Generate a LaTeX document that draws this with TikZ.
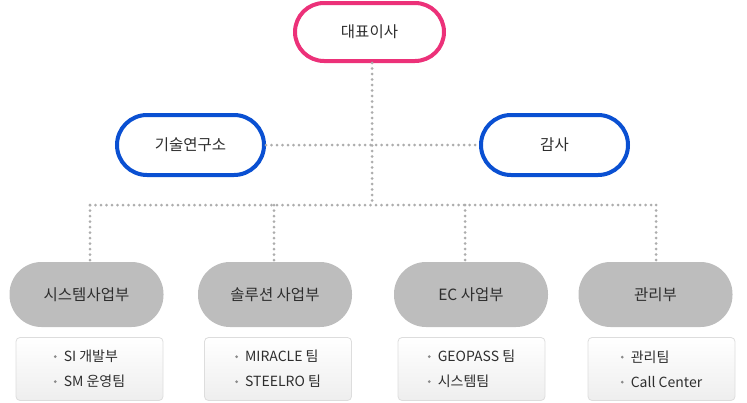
\documentclass[tikz,border=0pt]{standalone}
\usepackage{fontspec}
\setmainfont{Noto Sans CJK KR}
\definecolor{pinkline}{HTML}{EC3179}
\definecolor{blueline}{HTML}{0A50D2}
\definecolor{deptgray}{HTML}{BDBDBD}
\definecolor{dotgray}{HTML}{ADADAD}
\definecolor{txt}{HTML}{2E2E2E}
\definecolor{boxline}{HTML}{DDDDDD}
\definecolor{boxbot}{HTML}{EEEEEE}
\definecolor{bul}{HTML}{8A8A8A}
\newcommand{\bl}{\raisebox{3.6pt}{\tikz\fill[bul] (0,0) circle (1.5pt);}\hspace{7pt}}
\begin{document}
\begin{tikzpicture}[x=1pt,y=-1pt,
  every node/.style={text=txt},
  topnode/.style={draw=pinkline,line width=4pt,fill=white,rounded corners=29pt,
    minimum width=149pt,minimum height=58pt,inner sep=0pt,font=\fontsize{15.5}{18}\selectfont},
  midnode/.style={draw=blueline,line width=4pt,fill=white,rounded corners=30pt,
    minimum width=147pt,minimum height=60pt,inner sep=0pt,font=\fontsize{15.5}{18}\selectfont},
  dept/.style={fill=deptgray,rounded corners=32pt,minimum width=154pt,minimum height=65pt,
    inner sep=0pt,font=\fontsize{15.5}{18}\selectfont},
  teambox/.style={draw=boxline,line width=0.8pt,top color=white,bottom color=boxbot,
    rounded corners=4pt,minimum width=147pt,minimum height=63pt,inner sep=0pt},
  teamtext/.style={align=left,font=\fontsize{14}{25}\selectfont,inner sep=0pt},
  dots/.style={draw=dotgray,line width=3pt,line cap=round,dash pattern=on 0pt off 5.5pt}
]
\useasboundingbox (0,0) rectangle (747,402);

% nodes
\node[topnode] (ceo) at (369.5,32) {대표이사};
\node[midnode] (lab) at (190.5,145) {기술연구소};
\node[midnode] (audit) at (554.5,145) {감사};

\node[dept] (d1) at (86.5,294.5) {시스템사업부};
\node[dept] (d2) at (275,294.5) {솔루션 사업부};
\node[dept] (d3) at (471,294.5) {EC 사업부};
\node[dept] (d4) at (655.5,294.5) {관리부};

\node[teambox] (b1) at (89.5,369) {};
\node[teambox] (b2) at (278,369) {};
\node[teambox] (b3) at (471.5,369) {};
\node[teambox] (b4) at (661.5,369) {};

\node[teamtext] (t1) at (b1) {\bl SI 개발부\\\bl SM 운영팀};
\node[teamtext] (t2) at (b2) {\bl MIRACLE 팀\\\bl STEELRO 팀};
\node[teamtext] (t3) at (b3) {\bl GEOPASS 팀\\\bl 시스템팀};
\node[teamtext] (t4) at (b4) {\bl 관리팀\\\bl Call Center};

% connectors
\coordinate (j) at (372,205);
\coordinate (c1) at (90,205);
\coordinate (c2) at (274,205);
\coordinate (c3) at (465,205);
\coordinate (c4) at (656,205);

\path[dots] (ceo.south -| j) -- (j);
\path[dots] (lab.east) -- (audit.west);
\path[dots] (c1) -- (c4);
\path[dots] (c1) -- (d1.north -| c1);
\path[dots] (c2) -- (d2.north -| c2);
\path[dots] (c3) -- (d3.north -| c3);
\path[dots] (c4) -- (d4.north -| c4);
\end{tikzpicture}
\end{document}
